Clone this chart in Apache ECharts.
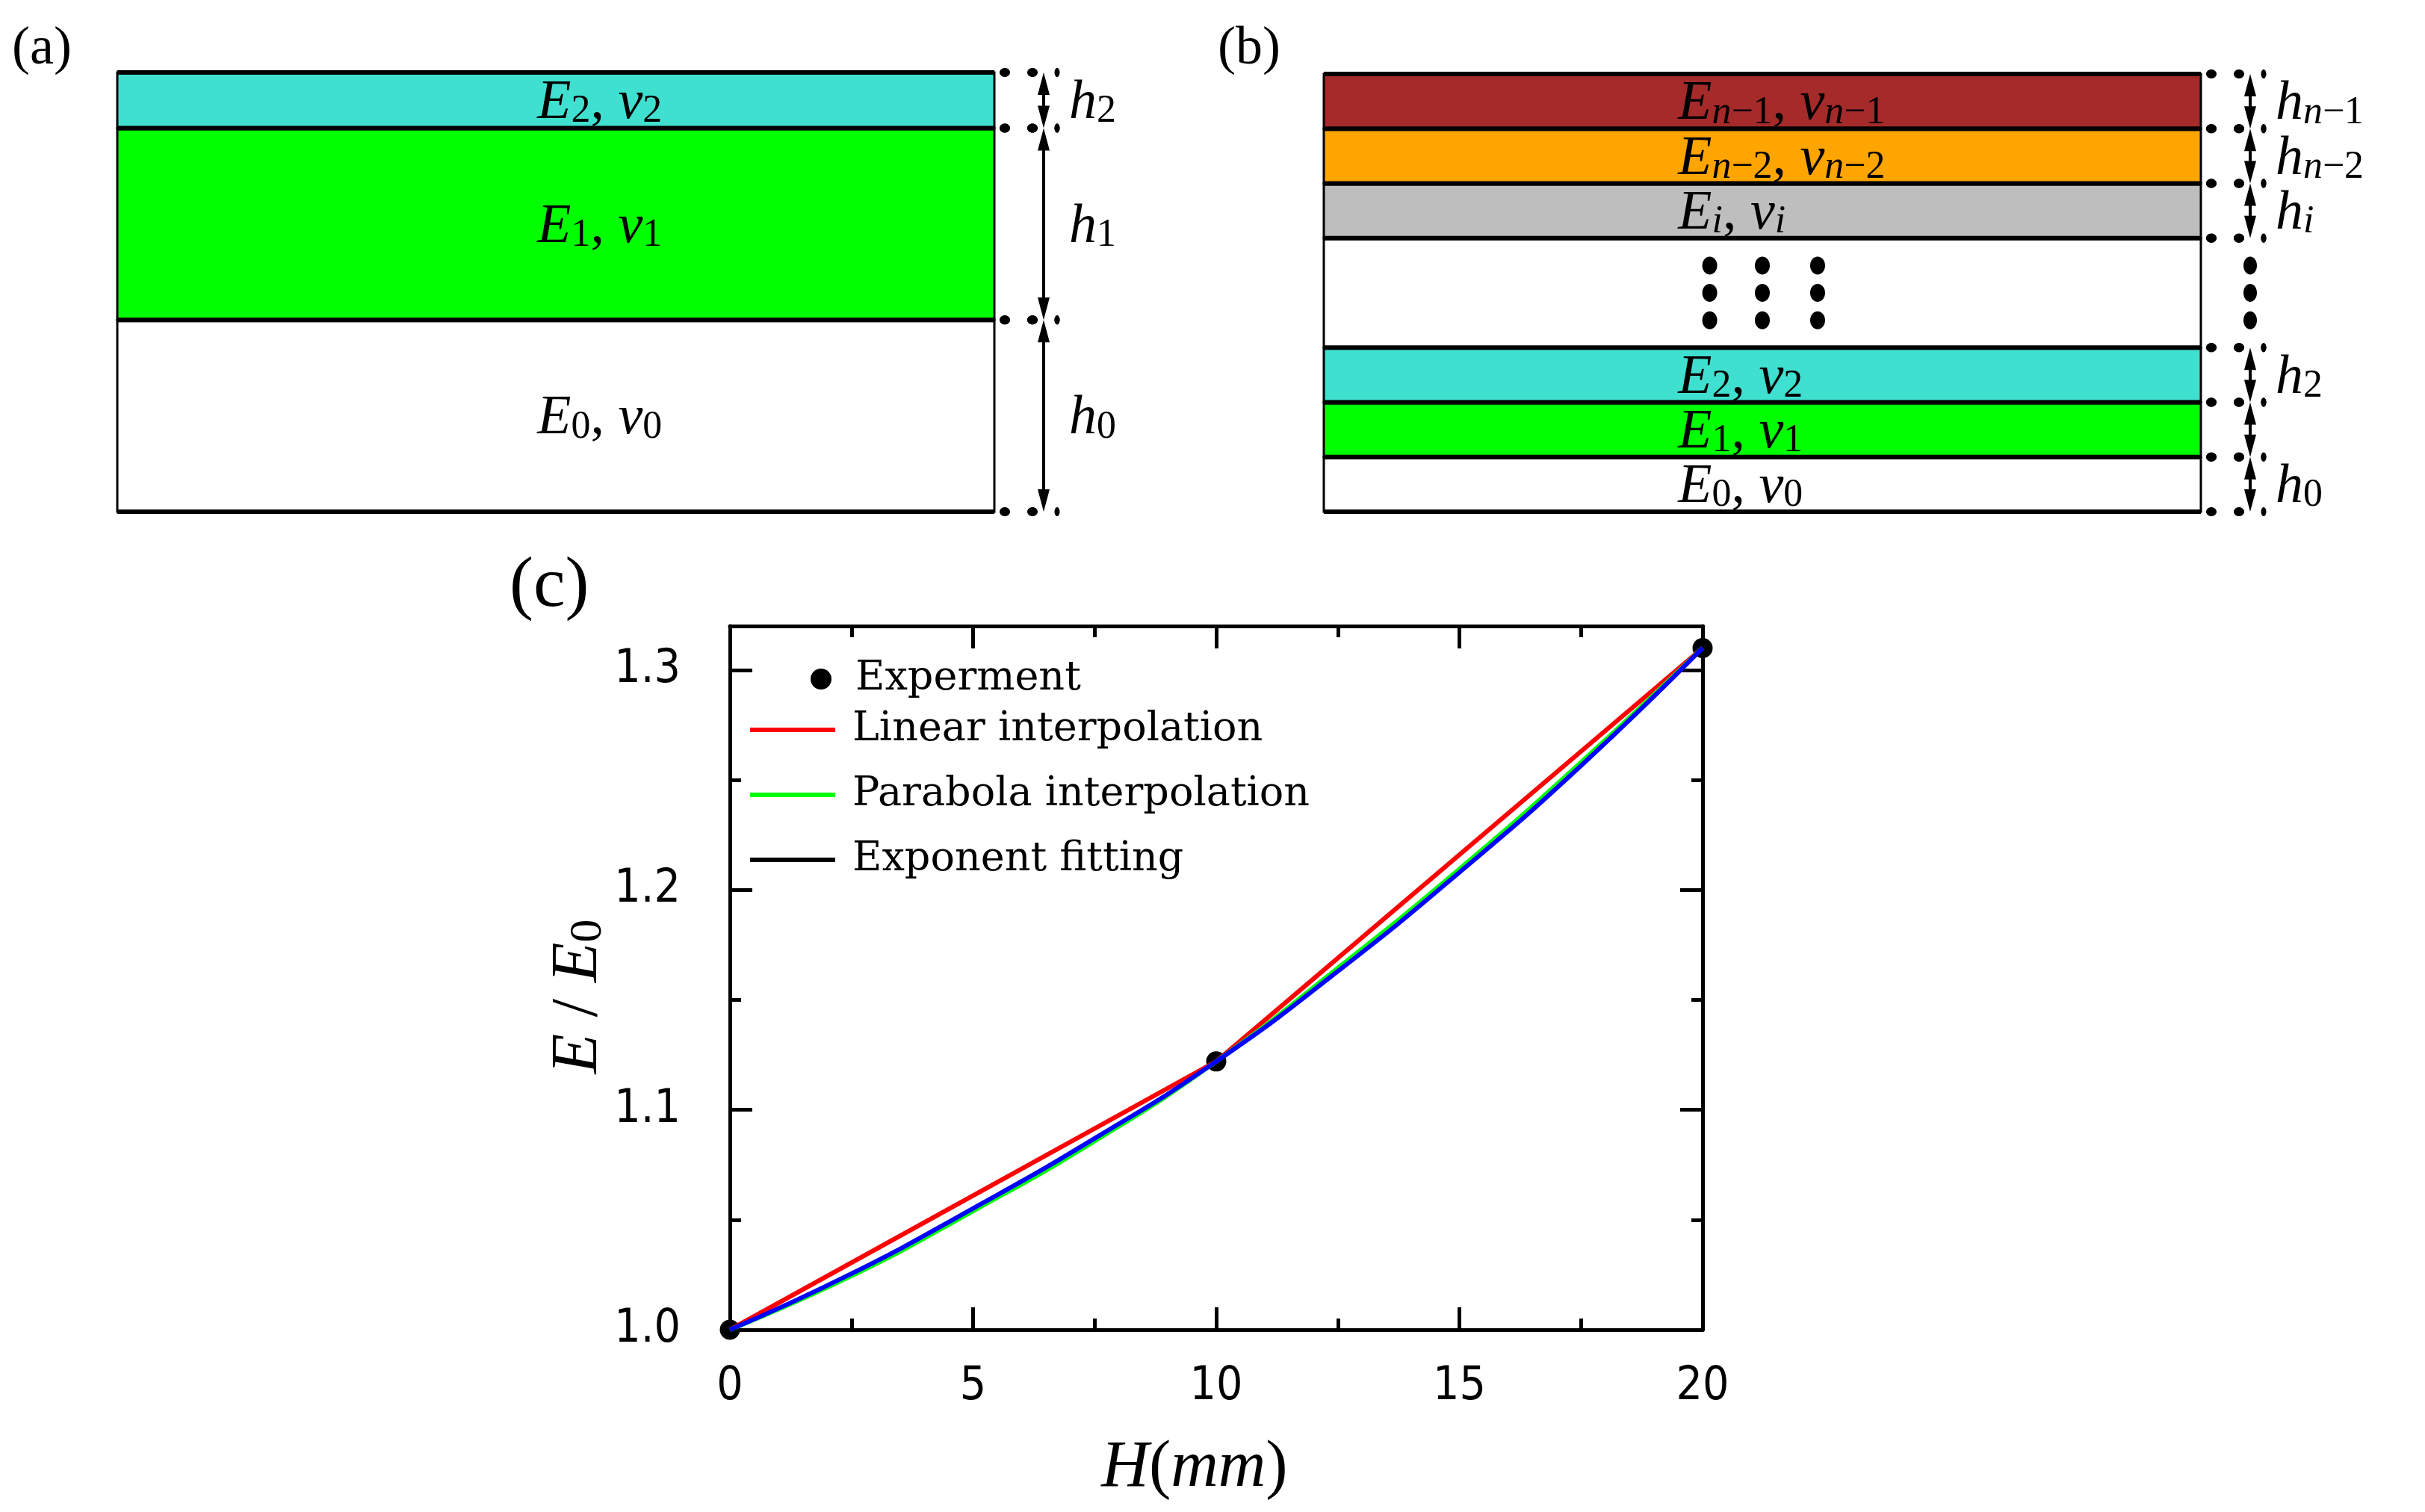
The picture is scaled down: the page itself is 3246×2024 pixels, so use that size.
<!DOCTYPE html>
<html>
<head>
<meta charset="utf-8">
<script src="https://cdn.jsdelivr.net/npm/echarts@6/dist/echarts.min.js"></script>
<style>
html,body{margin:0;padding:0;background:#fff}
#main{width:3246px;height:2024px}
</style>
</head>
<body>
<div id="main"></div>
<script>
// (a) three layers, listed bottom to top
var aHeights = [1, 1, 0.29];
var aColors = ['#ffffff', '#00ff00', '#40e0d0'];
var aSubs = ['0', '1', '2'];
var aGapLabels = ['0', '1', '2'];

// (b) n layers, null = the "..." block
var bHeights = [1, 1, 1, 2, 1, 1, 1];
var bColors = ['#ffffff', '#00ff00', '#40e0d0', '#ffffff', '#bebebe', '#ffa500', '#a52a2a'];
var bSubs = ['0', '1', '2', null, 'i', 'n−2', 'n−1'];
var bGapLabels = ['0', '', '2', '', 'i', 'n−2', 'n−1'];

// (c) E/E0 against H(mm)
var expH = [0, 10, 20];
var expE = [1.0, 1.122, 1.31];
var linH = [0, 10, 20];
var linE = [1.0, 1.122, 1.31];
var fitH = [0, 2.5, 5, 7.5, 10, 12.5, 15, 17.5, 20];
var paraE = [1.0, 1.0245, 1.054, 1.0858, 1.122, 1.1645, 1.2095, 1.258, 1.31];
var expoE = [1.0, 1.0255, 1.0552, 1.087, 1.122, 1.163, 1.208, 1.2565, 1.31];
var eTicks = [1.0, 1.1, 1.2, 1.3];
var eMinorTicks = [1.05, 1.15, 1.25];

var chart = echarts.init(document.getElementById('main'));

function sumOf(arr) {
	var s = 0;
	for (var i = 0; i < arr.length; i++) s += arr[i];
	return s;
}
function stackLayers(heights) {
	var out = [], base = 0;
	for (var i = 0; i < heights.length; i++) {
		out.push([base, base + heights[i], i]);
		base += heights[i];
	}
	return out;
}
function zip(xs, ys) {
	var out = [];
	for (var i = 0; i < xs.length; i++) out.push([xs[i], ys[i]]);
	return out;
}
function subText(s) {//letters italic, digits and signs upright
	var t = '';
	for (var i = 0; i < s.length; i++) {
		var c = s.charAt(i);
		t += /[a-z]/.test(c) ? '{si|' + c + '}' : '{s|' + c + '}';
	}
	return t;
}
function mathRich(size) {
	var f = 'Liberation Serif';
	return {
		i: {fontFamily: f, fontStyle: 'italic', fontSize: size, lineHeight: size * 1.2, verticalAlign: 'bottom', color: '#000'},
		r: {fontFamily: f, fontSize: size, lineHeight: size * 1.2, verticalAlign: 'bottom', color: '#000'},
		si: {fontFamily: f, fontStyle: 'italic', fontSize: size * 0.7, lineHeight: size * 0.7, verticalAlign: 'bottom', color: '#000'},
		s: {fontFamily: f, fontSize: size * 0.7, lineHeight: size * 0.7, verticalAlign: 'bottom', color: '#000'}
	};
}
var layerRich = mathRich(74);

function layerRenderer(colors, subs, gapLabels, labelX, labelAlign) {
	return function (params, api) {
		var k = params.dataIndex;
		var tl = api.coord([0, api.value(1)]);
		var br = api.coord([1, api.value(0)]);
		var x0 = tl[0], x1 = br[0], y0 = tl[1], y1 = br[1];
		var w = x1 - x0, h = y1 - y0, cy = (y0 + y1) / 2;
		var ax = x1 + 66;
		var kids = [];
		kids.push({type: 'rect', shape: {x: x0, y: y0, width: w, height: h},
			style: {fill: colors[k], stroke: '#000', lineWidth: 3}});
		[y0, y1].forEach(function (yy) {
			kids.push({type: 'line', shape: {x1: x0, y1: yy, x2: x1, y2: yy}, style: {stroke: '#000', lineWidth: 6}});
			kids.push({type: 'ellipse', shape: {cx: x1 + 14, cy: yy, rx: 7, ry: 6}, style: {fill: '#000'}});
			kids.push({type: 'ellipse', shape: {cx: x1 + 51, cy: yy, rx: 7, ry: 6}, style: {fill: '#000'}});
			kids.push({type: 'ellipse', shape: {cx: x1 + 84, cy: yy, rx: 3.5, ry: 6}, style: {fill: '#000'}});
		});
		if (subs[k] === null) {
			for (var r = -1; r <= 1; r++) {
				var dy = cy + r * h * 0.25;
				[0.44, 0.5, 0.563].forEach(function (f) {
					kids.push({type: 'ellipse', shape: {cx: x0 + w * f, cy: dy, rx: 10, ry: 12}, style: {fill: '#000'}});
				});
				kids.push({type: 'ellipse', shape: {cx: ax, cy: dy, rx: 9, ry: 12}, style: {fill: '#000'}});
			}
		} else {
			kids.push({type: 'line', shape: {x1: ax, y1: y0 + 10, x2: ax, y2: y1 - 10}, style: {stroke: '#000', lineWidth: 4}});
			kids.push({type: 'polygon', shape: {points: [[ax, y0], [ax - 8, y0 + 30], [ax + 8, y0 + 30]]}, style: {fill: '#000'}});
			kids.push({type: 'polygon', shape: {points: [[ax, y1], [ax - 8, y1 - 30], [ax + 8, y1 - 30]]}, style: {fill: '#000'}});
			kids.push({type: 'text', style: {
				text: '{i|E}' + subText(subs[k]) + '{r|, }{i|ν}' + subText(subs[k]),
				x: x0 + w * labelX, y: cy - 3, align: labelAlign, verticalAlign: 'middle', rich: layerRich}});
			if (gapLabels[k]) {
				kids.push({type: 'text', style: {
					text: '{i|h}' + subText(gapLabels[k]),
					x: x1 + 100, y: cy - 3, align: 'left', verticalAlign: 'middle', rich: layerRich}});
			}
		}
		return {type: 'group', children: kids};
	};
}

var tickFont = "'Liberation Sans Narrow', 'DejaVu Sans Condensed', 'Roboto Condensed', 'Liberation Sans', sans-serif";
var legendText = {fontFamily: 'DejaVu Serif', fontSize: 54, color: '#000'};
var blackLine = {color: '#000', width: 5};

function frameX(pos, withLabel) {
	return {
		type: 'value', gridIndex: 2, position: pos, min: 0, max: 20, interval: 5,
		axisLine: {onZero: false, lineStyle: blackLine},
		axisTick: {inside: true, length: 30, lineStyle: blackLine},
		minorTick: {show: true, splitNumber: 2, length: 15, lineStyle: blackLine},
		splitLine: {show: false},
		axisLabel: {show: withLabel, fontFamily: tickFont, fontSize: 62, color: '#000', margin: 46}
	};
}
function frameY(pos, values, len, withLine, withLabel, step) {
	return {
		type: 'value', gridIndex: 2, position: pos, min: 1.0, max: 1.32, interval: step,
		axisLine: {show: withLine, onZero: false, lineStyle: blackLine},
		axisTick: {inside: true, length: len, lineStyle: blackLine, customValues: values},
		splitLine: {show: false},
		axisLabel: {show: withLabel, customValues: values,
			fontFamily: tickFont, fontSize: 62, color: '#000', margin: 66,
			formatter: function (v) { return v.toFixed(1); }}
	};
}

var xBottom = frameX('bottom', true);
xBottom.name = '{i|H}{r|(}{i|mm}{r|)}';
xBottom.nameLocation = 'middle';
xBottom.nameGap = 124;
xBottom.nameTextStyle = {rich: mathRich(88), padding: [0, 58, 0, 0]};

var yLeft = frameY('left', eTicks, 30, true, true, 0.1);
yLeft.name = '{i|E}{r| / }{i|E}{s|0}';
yLeft.nameLocation = 'middle';
yLeft.nameGap = 140;
yLeft.nameTextStyle = {rich: mathRich(88), padding: [0, 50, 0, 0]};

var option = {
	animation: false,
	backgroundColor: '#fff',
	grid: [
		{left: 157, top: 97, width: 1174, height: 588},
		{left: 1772, top: 99, width: 1174, height: 586},
		{left: 977, top: 838, width: 1302, height: 942}
	],
	xAxis: [
		{type: 'value', gridIndex: 0, min: 0, max: 1, show: false},
		{type: 'value', gridIndex: 1, min: 0, max: 1, show: false},
		xBottom,
		frameX('top', false)
	],
	yAxis: [
		{type: 'value', gridIndex: 0, min: 0, max: sumOf(aHeights), show: false},
		{type: 'value', gridIndex: 1, min: 0, max: sumOf(bHeights), show: false},
		yLeft,
		frameY('left', eMinorTicks, 15, false, false, 0.05),
		frameY('right', eTicks, 30, true, false, 0.1),
		frameY('right', eMinorTicks, 15, false, false, 0.05)
	],
	legend: [
		{data: [{name: 'Experment', icon: 'circle', itemStyle: {color: '#000', opacity: 1}}],
			orient: 'vertical', left: 1085, top: 882, padding: 0,
			itemWidth: 28, itemHeight: 28, selectedMode: false,
			textStyle: echarts.util.extend({padding: [0, 0, 0, 27]}, legendText)},
		{data: [
			{name: 'Linear interpolation', icon: 'rect'},
			{name: 'Parabola interpolation', icon: 'rect'},
			{name: 'Exponent fitting', icon: 'rect', itemStyle: {color: '#000'}}
		], orient: 'vertical', left: 1004, top: 950, padding: 0,
			itemWidth: 114, itemHeight: 6, itemGap: 33, selectedMode: false,
			textStyle: echarts.util.extend({padding: [0, 0, 0, 18]}, legendText)}
	],
	graphic: [
		{type: 'text', left: 16, top: 30, style: {text: '(a)', font: '72px "Liberation Serif"', fill: '#000'}},
		{type: 'text', left: 1630, top: 30, style: {text: '(b)', font: '72px "Liberation Serif"', fill: '#000'}},
		{type: 'text', left: 682, top: 738, style: {text: '(c)', font: '96px "Liberation Serif"', fill: '#000'}}
	],
	series: [
		{type: 'custom', xAxisIndex: 0, yAxisIndex: 0, data: stackLayers(aHeights),
			renderItem: layerRenderer(aColors, aSubs, aGapLabels, 0.55, 'center')},
		{type: 'custom', xAxisIndex: 1, yAxisIndex: 1, data: stackLayers(bHeights),
			renderItem: layerRenderer(bColors, bSubs, bGapLabels, 0.404, 'left')},
		{name: 'Experment', type: 'scatter', xAxisIndex: 2, yAxisIndex: 2,
			data: zip(expH, expE), symbolSize: 27, itemStyle: {color: '#000', opacity: 1}},
		{name: 'Linear interpolation', type: 'line', xAxisIndex: 2, yAxisIndex: 2,
			data: zip(linH, linE), symbol: 'none', color: '#ff0000', lineStyle: {width: 6}},
		{name: 'Parabola interpolation', type: 'line', xAxisIndex: 2, yAxisIndex: 2,
			data: zip(fitH, paraE), symbol: 'none', smooth: true, color: '#00ff00', lineStyle: {width: 6}},
		{name: 'Exponent fitting', type: 'line', xAxisIndex: 2, yAxisIndex: 2,
			data: zip(fitH, expoE), symbol: 'none', smooth: true, color: '#0000ff', lineStyle: {width: 6}}
	]
};
chart.setOption(option);
</script>
</body>
</html>
